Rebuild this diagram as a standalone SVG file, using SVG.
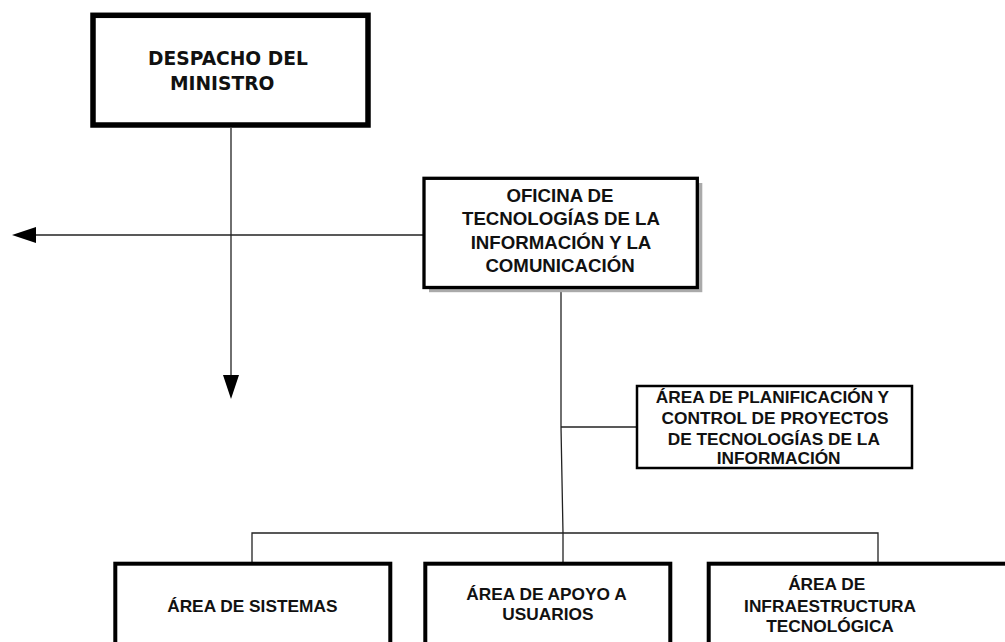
<svg xmlns="http://www.w3.org/2000/svg" width="1005" height="642" viewBox="0 0 1005 642">
<style>
.box{fill:#fff;stroke:#000}
.a{font-family:"Liberation Sans",Arial,sans-serif;font-weight:bold;fill:#111;text-anchor:middle}
.s{font-size:17.3px}
.d{font-family:"DejaVu Sans",sans-serif;font-weight:bold;font-size:18.67px;fill:#111}
.ln{fill:none;stroke:#222;stroke-width:1.3}
</style>
<rect width="1005" height="642" fill="#fff"/>
<g id="connectors">
<path class="ln" d="M231,128 V378"/>
<polygon points="223,375 239,375 231,399" fill="#000"/>
<path class="ln" d="M424,235 H34"/>
<polygon points="36,227 36,243 12,235" fill="#000"/>
<path class="ln" d="M561,289 L561,427"/>
<path class="ln" d="M561,427 H637" stroke="#777"/>
<path class="ln" d="M561,427 L563,533 V564"/>
<path class="ln" d="M252,564 V533 H878 V564"/>
</g>
<g id="despacho">
<rect class="box" x="93" y="15.3" width="275" height="109.7" stroke-width="5.5"/>
<text class="d" x="148" y="65">DESPACHO DEL</text>
<text class="d" x="170" y="90">MINISTRO</text>
</g>
<g id="oficina">
<rect x="429" y="183" width="273.3" height="109.2" fill="#aaa"/>
<rect class="box" x="424" y="178.3" width="273.3" height="109.2" stroke-width="3.3"/>
<text class="a" font-size="18.67" x="560" y="201.5">OFICINA DE</text>
<text class="a" font-size="18.67" x="561" y="225">TECNOLOGÍAS DE LA</text>
<text class="a" font-size="18.67" x="561" y="248.5">INFORMACIÓN Y LA</text>
<text class="a" font-size="18.67" x="560" y="272">COMUNICACIÓN</text>
</g>
<g id="planificacion">
<rect class="box" x="637" y="386" width="275" height="82" stroke-width="2.5"/>
<text class="a s" x="772.5" y="403.3">ÁREA DE PLANIFICACIÓN Y</text>
<text class="a s" x="775" y="424.3">CONTROL DE PROYECTOS</text>
<text class="a s" x="773.8" y="445">DE TECNOLOGÍAS DE LA</text>
<text class="a s" x="778.7" y="464.3">INFORMACIÓN</text>
</g>
<g id="sistemas">
<rect class="box" x="115.3" y="563.7" width="275" height="100" stroke-width="4"/>
<text class="a s" x="252.3" y="611.7">ÁREA DE SISTEMAS</text>
</g>
<g id="apoyo">
<rect class="box" x="425.3" y="563.7" width="245" height="100" stroke-width="4"/>
<text class="a s" x="546.5" y="600">ÁREA DE APOYO A</text>
<text class="a s" x="547.8" y="620">USUARIOS</text>
</g>
<g id="infraestructura">
<rect class="box" x="708.7" y="563.7" width="320" height="100" stroke-width="4"/>
<text class="a s" x="826.7" y="590">ÁREA DE</text>
<text class="a s" x="830" y="611.7">INFRAESTRUCTURA</text>
<text class="a s" x="830" y="631.7">TECNOLÓGICA</text>
</g>
</svg>
